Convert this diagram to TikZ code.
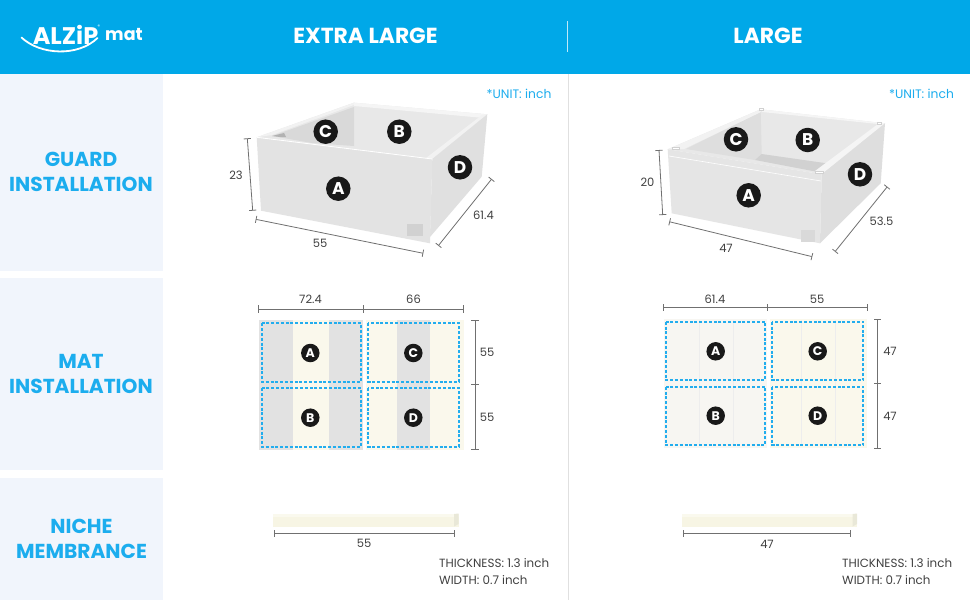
\documentclass[tikz,border=0pt]{standalone}
\usepackage{fontspec}
\setmainfont{Poppins}
\usetikzlibrary{arrows, calc}

\definecolor{headblue}{HTML}{00A8E8}
\definecolor{textblue}{HTML}{1CADEE}
\definecolor{sidepanel}{HTML}{F1F5FC}
\definecolor{matcream}{HTML}{FAF8EC}
\definecolor{matgrey}{HTML}{E2E2E2}
\definecolor{matpale}{HTML}{F7F6F2}
\definecolor{barcream}{HTML}{F7F5E4}
\definecolor{bartop}{HTML}{FAF9EE}
\definecolor{barend}{HTML}{E9E8D8}
\definecolor{dimgrey}{HTML}{707070}
\definecolor{dashblue}{HTML}{22ADEE}

\tikzset{
    sidelabel/.style={font=\fontsize{20.2}{25}\selectfont\bfseries, text=textblue, align=center},
    headlabel/.style={font=\fontsize{21.8}{24}\selectfont\bfseries, text=white},
    unitlabel/.style={font=\fontsize{12.3}{14}\selectfont, text=textblue},
    dimlabel/.style={font=\fontsize{11.5}{14}\selectfont, text=black!75},
    notelabel/.style={font=\fontsize{11.9}{17}\selectfont, text=black!75, align=left, anchor=west, inner sep=0pt},
    dimline/.style={|-|, draw=dimgrey, line width=0.8pt},
    bigdot/.style={circle, fill=black!90, text=white, minimum size=24.5pt, inner sep=0pt, font=\fontsize{17}{17}\selectfont\bfseries},
    smalldot/.style={circle, fill=black!90, text=white, minimum size=18.5pt, inner sep=0pt, font=\fontsize{12.5}{12.5}\selectfont\bfseries},
    dashbox/.style={draw=dashblue, line width=1.8pt, dash pattern=on 3pt off 1.8pt},
    pin/.style={fill=white, draw=black!18, line width=0.3pt}
}

\begin{document}
\begin{tikzpicture}[x=1pt, y=-1pt]
    \useasboundingbox (0,0) rectangle (970,600);
    \fill [white] (0,0) rectangle (970,600);

    % header and side panels
    \fill [headblue] (0,0) rectangle (970,74);
    \fill [sidepanel] (0,74) rectangle (163,271);
    \fill [sidepanel] (0,278) rectangle (163,470);
    \fill [sidepanel] (0,478) rectangle (163,600);
    \draw [white!75!headblue, line width=0.6pt] (567.5,21) -- (567.5,52);
    \draw [black!12, line width=0.6pt] (568,74) -- (568,600);

    % logo
    \node (logoname) at (65.5,34.5) [text=white, font=\fontsize{24}{24}\selectfont\bfseries] {ALZiP};
    \node (logoreg) at (99,26.5) [text=white, font=\fontsize{5}{5}\selectfont] {®};
    \node (logomat) at (124,34.5) [text=white, font=\fontsize{17.5}{18}\selectfont\bfseries] {mat};
    \draw [white, line width=1.8pt, line cap=round] (21.5,37.5) .. controls (40,55) and (78,57) .. (97.5,38);

    \node (headxl) at (365.5,36) [headlabel] {EXTRA LARGE};
    \node (headl) at (768,36) [headlabel] {LARGE};

    \node (rowguard) at (81,172) [sidelabel] {GUARD\\INSTALLATION};
    \node (rowmat) at (81,374) [sidelabel] {MAT\\INSTALLATION};
    \node (rowniche) at (81.5,539) [sidelabel] {NICHE\\MEMBRANCE};

    \node (unitxl) at (519,94) [unitlabel] {*UNIT: inch};
    \node (unitl) at (921.5,94) [unitlabel] {*UNIT: inch};

    % guard, extra large
    \fill [black!9] (256.7,137.3) -- (354,102.7) -- (487.3,114.3) -- (432.3,159) -- cycle;
    \fill [black!15] (272,136) -- (354,107) -- (354,146) -- (312,143) -- cycle;
    \fill [black!30] (272,136) -- (284,133) -- (286,137) -- (280,137) -- cycle;
    \fill [black!5] (256.7,137.3) -- (354,102.7) -- (354,105) -- (272,135) -- cycle;
    \fill [black!4] (354,102.7) -- (487.3,114.3) -- (484,118) -- (354,106) -- cycle;
    \fill [black!5] (487.3,114.3) -- (432.3,159) -- (426,158) -- (482,115) -- cycle;
    \fill [black!12] (432.3,159) -- (487.3,114.3) -- (481.7,176.7) -- (430,237) -- cycle;
    \fill [black!11] (256.7,137.3) -- (432.3,159) -- (430,243.3) -- (261,210.7) -- cycle;
    \draw [white, line width=0.8pt] (256.7,137.3) -- (432.3,159);
    \fill [black!18] (406.7,224.3) rectangle (423.3,236);

    \draw [dimline] (247.3,138.3) -- (252.7,210.7);
    \draw [dimline] (255.7,219.3) -- (423.3,253.3);
    \draw [dimline] (491.7,179) -- (438.3,245.7);
    \node (xlheight) at (236,175) [dimlabel] {23};
    \node (xlfront) at (320,243.5) [dimlabel] {55};
    \node (xlside) at (483.5,215) [dimlabel] {61.4};

    \foreach \name/\x/\y in {A/338.3/188.7, B/399.3/131.7, C/325.7/131.7, D/460/167.3} {
        \node (xlguard\name) at (\x,\y) [bigdot] {\name};
    }

    % guard, large
    \fill [black!9] (667.7,149.3) -- (760.7,109.3) -- (885,123.3) -- (821.7,174.3) -- cycle;
    \fill [black!13] (686,149) -- (760.7,112) -- (761.7,154) -- (755,160) -- cycle;
    \fill [black!18] (761.7,154) -- (826.7,163.3) -- (818,172) -- (755,160) -- cycle;
    \fill [black!5] (667.7,149.3) -- (760.7,109.3) -- (761,112) -- (684,149) -- cycle;
    \fill [black!4] (760.7,109.3) -- (885,123.3) -- (822,174.3) -- (815,171) -- (878,124) -- (762,112) -- cycle;
    \fill [black!13] (821.7,174.3) -- (885,123.3) -- (880.7,183.3) -- (820,243.3) -- cycle;
    \fill [black!10] (667.7,149.3) -- (821.7,174.3) -- (820,243.3) -- (671.7,213.3) -- cycle;
    \draw [white, line width=0.6pt] (669,156) -- (821,181);
    \fill [black!15] (801,230) rectangle (815,241.7);
    \filldraw [pin] (672,147) rectangle (679,149);
    \filldraw [pin] (759,108) rectangle (763,110);
    \filldraw [pin] (877,122.5) rectangle (881,124.5);
    \filldraw [pin] (815,171.5) rectangle (823,173.5);

    \draw [dimline] (659,150) -- (662.7,215);
    \draw [dimline] (669.3,221.7) -- (812.3,256.7);
    \draw [dimline] (887.3,186.7) -- (835,251.7);
    \node (lheight) at (647.5,182.5) [dimlabel] {20};
    \node (lfront) at (726,248.5) [dimlabel] {47};
    \node (lside) at (881.5,221) [dimlabel] {53.5};

    \foreach \name/\x/\y in {A/748.7/195.3, B/807.7/140, C/736/139.3, D/860/174.3} {
        \node (lguard\name) at (\x,\y) [bigdot] {\name};
    }

    % mat, extra large
    \fill [matcream] (259,320) rectangle (363.3,450);
    \fill [matcream] (366,320) rectangle (464,450);
    \fill [matgrey] (259,320) rectangle (292.7,450);
    \fill [matgrey] (329.3,320) rectangle (363.3,450);
    \fill [matgrey] (396.7,320) rectangle (430,450);
    \draw [dashbox] (261.7,323.3) rectangle (360.7,381.7);
    \draw [dashbox] (261.7,388.3) rectangle (360.7,446.7);
    \draw [dashbox] (368.3,323.3) rectangle (459,381.7);
    \draw [dashbox] (368.3,388.3) rectangle (459,446.7);

    \draw [dimline] (258.3,309) -- (363.3,309);
    \draw [dimline, -|] (363.3,309) -- (464,309);
    \draw [dimline] (475,319.7) -- (475,384.3);
    \draw [dimline, -|] (475,384.3) -- (475,449.7);
    \node (xlmatw) at (310.5,299) [dimlabel] {72.4};
    \node (xlmatv) at (413.5,299) [dimlabel] {66};
    \node (xlmatp) at (487,352) [dimlabel] {55};
    \node (xlmatq) at (487,417) [dimlabel] {55};

    \foreach \name/\x/\y in {A/310.3/353, B/310.3/417.7, C/413.3/353, D/413.3/417.7} {
        \node (xlmat\name) at (\x,\y) [smalldot] {\name};
    }

    % mat, large
    \fill [matpale] (664,318.5) rectangle (767,447.5);
    \fill [matcream] (770,318.5) rectangle (867,447.5);
    \foreach \x in {699, 733.3, 801.7, 835} {
        \draw [black!7, line width=0.5pt] (\x,320) -- (\x,446);
    }
    \draw [dashbox] (666,321.7) rectangle (765,380);
    \draw [dashbox] (666,386.7) rectangle (765,445);
    \draw [dashbox] (772.3,321.7) rectangle (863.3,380);
    \draw [dashbox] (772.3,386.7) rectangle (863.3,445);

    \draw [dimline] (663.3,307.7) -- (767.7,307.7);
    \draw [dimline, -|] (767.7,307.7) -- (867.3,307.7);
    \draw [dimline] (877.3,319.3) -- (877.3,383.7);
    \draw [dimline, -|] (877.3,383.7) -- (877.3,448.3);
    \node (lmatw) at (715,299) [dimlabel] {61.4};
    \node (lmatv) at (817,299) [dimlabel] {55};
    \node (lmatp) at (890,351) [dimlabel] {47};
    \node (lmatq) at (890,416) [dimlabel] {47};

    \foreach \name/\x/\y in {A/715.7/351.3, B/715.7/415.7, C/817.7/351.3, D/817.7/415.7} {
        \node (lmat\name) at (\x,\y) [smalldot] {\name};
    }

    % niche
    \fill [barcream] (273.3,513.5) rectangle (458.5,526.5);
    \fill [bartop] (273.3,513.5) rectangle (458.5,517);
    \fill [barend] (454,514) -- (458.5,513.5) -- (458.5,524) -- (454,526.5) -- cycle;
    \draw [dimline] (274,533.5) -- (455,533.5);
    \node (xlniche) at (364,543.5) [dimlabel] {55};
    \node (xlnote) at (439,572) [notelabel] {THICKNESS: 1.3 inch\\WIDTH: 0.7 inch};

    \fill [barcream] (682,513.5) rectangle (857,526.5);
    \fill [bartop] (682,513.5) rectangle (857,517);
    \fill [barend] (852.5,514) -- (857,513.5) -- (857,524) -- (852.5,526.5) -- cycle;
    \draw [dimline] (682.5,533.5) -- (851,533.5);
    \node (lniche) at (767,544) [dimlabel] {47};
    \node (lnote) at (842,572) [notelabel] {THICKNESS: 1.3 inch\\WIDTH: 0.7 inch};
\end{tikzpicture}
\end{document}
